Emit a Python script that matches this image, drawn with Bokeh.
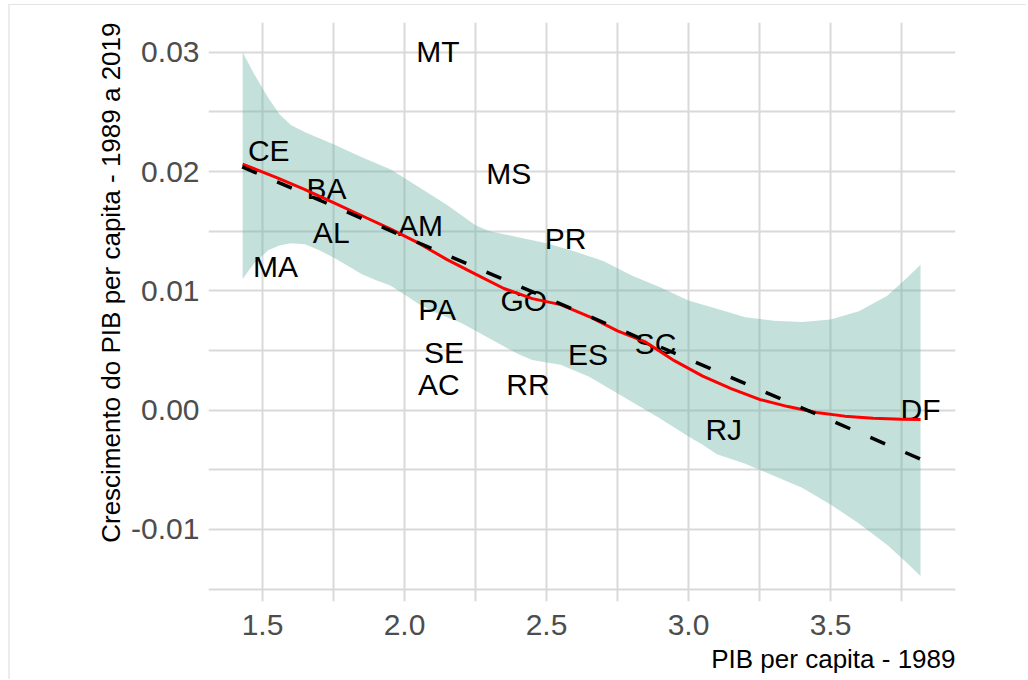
from bokeh.plotting import figure
from bokeh.models import FixedTicker, Range1d, ColumnDataSource, Title
from bokeh.core.properties import value
from bokeh.embed import file_html
from bokeh.resources import INLINE

# ---- data ----
uf = ["MT", "CE", "BA", "AL", "MA", "AM", "MS", "PR", "PA", "GO",
      "SE", "ES", "SC", "AC", "RR", "RJ", "DF"]
pib_1989 = [2.118, 1.522, 1.725, 1.742, 1.546, 2.056, 2.367, 2.567, 2.115, 2.420,
            2.139, 2.646, 2.884, 2.121, 2.435, 3.124, 3.817]
crescimento = [0.0299, 0.0216, 0.0184, 0.0147, 0.0119, 0.0153, 0.0197, 0.0142, 0.0083, 0.0090,
               0.0047, 0.0045, 0.0054, 0.0020, 0.0020, -0.0018, -0.0001]

# loess fit (red line)
loess_x = [1.43, 1.55, 1.65, 1.75, 1.85, 1.95, 2.05, 2.15, 2.25, 2.35, 2.45, 2.55, 2.65,
           2.75, 2.85, 2.95, 3.05, 3.15, 3.25, 3.35, 3.45, 3.55, 3.65, 3.75, 3.817]
loess_y = [0.02063, 0.01950, 0.01848, 0.01740, 0.01630, 0.01520, 0.01400, 0.01262, 0.01140,
           0.01020, 0.00935, 0.00885, 0.00785, 0.00665, 0.00570, 0.00415, 0.00285, 0.00180,
           0.00090, 0.00030, -0.00020, -0.00050, -0.00068, -0.00076, -0.00078]

# confidence band of the loess fit
upper_x = [1.43, 1.47, 1.52, 1.56, 1.60, 1.65, 1.75, 1.85, 1.95, 2.05, 2.15, 2.25, 2.30, 2.40,
           2.50, 2.60, 2.70, 2.80, 2.90, 3.00, 3.10, 3.20, 3.30, 3.40, 3.50, 3.60, 3.70, 3.76, 3.817]
upper_y = [0.0300, 0.0282, 0.0262, 0.0248, 0.0239, 0.0233, 0.0223, 0.0212, 0.0202, 0.0187,
           0.0172, 0.0155, 0.0150, 0.0145, 0.0140, 0.0133, 0.0125, 0.0113, 0.0103, 0.0092,
           0.0085, 0.0078, 0.0075, 0.0074, 0.0076, 0.0083, 0.0096, 0.0109, 0.0122]
lower_x = [1.43, 1.47, 1.52, 1.56, 1.60, 1.65, 1.70, 1.75, 1.80, 1.85, 1.90, 1.95, 2.00, 2.05,
           2.10, 2.15, 2.20, 2.30, 2.40, 2.45, 2.50, 2.55, 2.60, 2.65, 2.70, 2.80, 2.90, 3.00,
           3.05, 3.10, 3.20, 3.30, 3.40, 3.50, 3.60, 3.70, 3.76, 3.817]
lower_y = [0.0110, 0.0123, 0.0134, 0.0138, 0.0140, 0.0139, 0.0134, 0.0128, 0.0121, 0.0114,
           0.0109, 0.01045, 0.0097, 0.0089, 0.0083, 0.0078, 0.0073, 0.0060, 0.0047, 0.0042,
           0.0040, 0.0038, 0.0033, 0.0028, 0.0021, 0.0007, -0.0007, -0.0022, -0.0029, -0.0037,
           -0.0045, -0.0055, -0.0065, -0.0079, -0.0095, -0.0113, -0.0126, -0.0139]

# linear fit (dashed black line)
lm_x = [1.4285, 3.817]
lm_y = [0.0204, -0.0041]

x_ticks = [1.5, 2.0, 2.5, 3.0, 3.5]
x_minor = [1.25, 1.75, 2.25, 2.75, 3.25, 3.75]
y_ticks = [-0.01, 0.0, 0.01, 0.02, 0.03]
y_minor = [-0.015, -0.005, 0.005, 0.015, 0.025]
x_labels = {1.5: "1.5", 2.0: "2.0", 2.5: "2.5", 3.0: "3.0", 3.5: "3.5"}
y_labels = {-0.01: "-0.01", 0.0: "0.00", 0.01: "0.01", 0.02: "0.02", 0.03: "0.03"}

x_title = "PIB per capita - 1989"
y_title = "Crescimento do PIB per capita - 1989 a 2019"

FONT = "Liberation Sans"

p = figure(width=1018, height=675,
           x_range=Range1d(1.3099, 3.9401), y_range=Range1d(-0.01604, 0.0325),
           output_backend="svg", toolbar_location=None,
           min_border_left=198, min_border_right=73, min_border_top=17, min_border_bottom=79,
           styles={"margin-left": "8px", "margin-top": "4px",
                   "border-top": "1px solid #e4e4e4", "border-left": "2px solid #ececec"})
p.outline_line_color = None
p.background_fill_color = "white"
p.border_fill_color = "white"

for ax in (p.xaxis[0], p.yaxis[0]):
    ax.axis_line_color = None
    ax.major_tick_line_color = None
    ax.minor_tick_line_color = None
    ax.major_tick_in = 0
    ax.major_tick_out = 0
    ax.minor_tick_in = 0
    ax.minor_tick_out = 0
    ax.major_label_text_font = FONT
    ax.major_label_text_font_size = "30px"
    ax.major_label_text_color = "#4d4d4d"

p.xaxis.ticker = FixedTicker(ticks=x_ticks, minor_ticks=x_minor)
p.yaxis.ticker = FixedTicker(ticks=y_ticks, minor_ticks=y_minor)
p.xaxis.major_label_overrides = x_labels
p.yaxis.major_label_overrides = y_labels
p.xaxis.major_label_standoff = 13
p.yaxis.major_label_standoff = 9

# axis titles, aligned to the right end / top end as in the reference
p.add_layout(Title(text=x_title, align="right", text_font=FONT, text_font_size="26px",
                   text_font_style="normal", text_color="black", standoff=8), "below")
p.add_layout(Title(text=y_title, align="right", text_font=FONT, text_font_size="26px",
                   text_font_style="normal", text_color="black", standoff=6), "left")

for g in (p.xgrid[0], p.ygrid[0]):
    g.grid_line_color = "#d9d9d9"
    g.grid_line_width = 2
    g.minor_grid_line_color = "#d9d9d9"
    g.minor_grid_line_width = 2

# ribbon
band_x = upper_x + lower_x[::-1]
band_y = upper_y + lower_y[::-1]
p.patch(band_x, band_y, fill_color="#69b3a2", fill_alpha=0.4, line_color=None)

# labels
src = ColumnDataSource(dict(x=pib_1989, y=crescimento, uf=uf))
p.text(x="x", y="y", text="uf", source=src, text_font=value(FONT), text_font_size="30px",
       text_color="black", text_align="center", text_baseline="alphabetic", y_offset=-2)

# loess line
p.line(loess_x, loess_y, line_color="red", line_width=3)

# linear fit
p.line(lm_x, lm_y, line_color="black", line_width=3.5, line_dash="16 22")

open("out.html", "w").write(file_html(p, INLINE))
